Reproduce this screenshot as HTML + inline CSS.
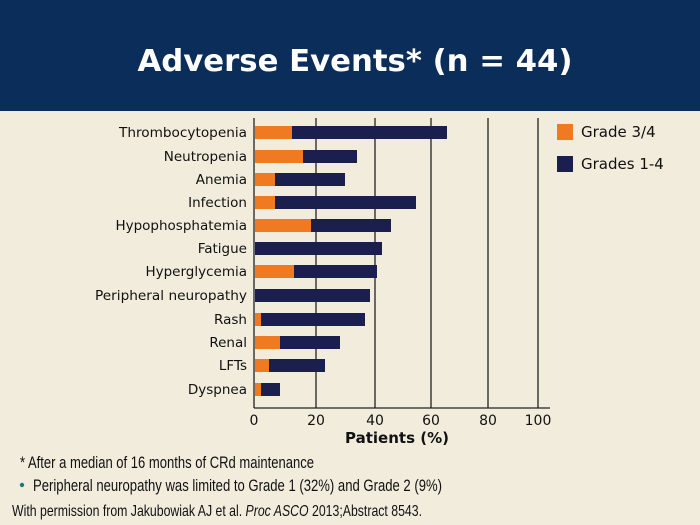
<!DOCTYPE html>
<html><head><style>body{margin:0}svg{display:block}</style></head><body>
<svg width="700" height="525" xmlns="http://www.w3.org/2000/svg" font-family="DejaVu Sans, Liberation Sans, sans-serif">
<rect width="700" height="525" fill="#f1ecdc"/>
<rect width="700" height="111" fill="#0b2d5a"/>
<text x="355" y="71" fill="#fff" font-size="30" font-weight="bold" text-anchor="middle" textLength="435" lengthAdjust="spacingAndGlyphs">Adverse Events* (n = 44)</text>
<g stroke="#222" stroke-width="1.3">
<line x1="316" y1="118" x2="316" y2="408"/><line x1="375" y1="118" x2="375" y2="408"/>
<line x1="431" y1="118" x2="431" y2="408"/><line x1="488" y1="118" x2="488" y2="408"/>
<line x1="538" y1="118" x2="538" y2="408"/>
</g>
<g>
<rect x="255" y="126" width="192" height="13" fill="#1b1f4d"/><rect x="255" y="126" width="37" height="13" fill="#f07a22"/>
<rect x="255" y="150" width="102" height="13" fill="#1b1f4d"/><rect x="255" y="150" width="48" height="13" fill="#f07a22"/>
<rect x="255" y="173" width="90" height="13" fill="#1b1f4d"/><rect x="255" y="173" width="20" height="13" fill="#f07a22"/>
<rect x="255" y="196" width="161" height="13" fill="#1b1f4d"/><rect x="255" y="196" width="20" height="13" fill="#f07a22"/>
<rect x="255" y="219" width="136" height="13" fill="#1b1f4d"/><rect x="255" y="219" width="56" height="13" fill="#f07a22"/>
<rect x="255" y="242" width="127" height="13" fill="#1b1f4d"/>
<rect x="255" y="265" width="122" height="13" fill="#1b1f4d"/><rect x="255" y="265" width="39" height="13" fill="#f07a22"/>
<rect x="255" y="289" width="115" height="13" fill="#1b1f4d"/>
<rect x="255" y="313" width="110" height="13" fill="#1b1f4d"/><rect x="255" y="313" width="6" height="13" fill="#f07a22"/>
<rect x="255" y="336" width="85" height="13" fill="#1b1f4d"/><rect x="255" y="336" width="25" height="13" fill="#f07a22"/>
<rect x="255" y="359" width="70" height="13" fill="#1b1f4d"/><rect x="255" y="359" width="14" height="13" fill="#f07a22"/>
<rect x="255" y="383" width="25" height="13" fill="#1b1f4d"/><rect x="255" y="383" width="6" height="13" fill="#f07a22"/>
</g>
<g stroke="#222" stroke-width="1.3"><line x1="254" y1="118" x2="254" y2="408"/><line x1="254" y1="408" x2="550" y2="408"/></g>
<g font-size="13.5" fill="#111" text-anchor="end">
<text x="247" y="137" textLength="128" lengthAdjust="spacingAndGlyphs">Thrombocytopenia</text><text x="247" y="161">Neutropenia</text>
<text x="247" y="184">Anemia</text><text x="247" y="207">Infection</text>
<text x="247" y="230">Hypophosphatemia</text><text x="247" y="253">Fatigue</text>
<text x="247" y="276">Hyperglycemia</text><text x="247" y="300" textLength="152" lengthAdjust="spacingAndGlyphs">Peripheral neuropathy</text>
<text x="247" y="324">Rash</text><text x="247" y="347">Renal</text>
<text x="247" y="370">LFTs</text><text x="247" y="394">Dyspnea</text>
</g>
<g font-size="14" fill="#111" text-anchor="middle">
<text x="254" y="425">0</text><text x="316" y="425">20</text><text x="375" y="425">40</text>
<text x="431" y="425">60</text><text x="488" y="425">80</text><text x="538" y="425">100</text>
</g>
<text x="397" y="443" font-size="15" font-weight="bold" text-anchor="middle" fill="#111">Patients (%)</text>
<rect x="557" y="124" width="16" height="16" fill="#f07a22"/>
<rect x="557" y="156" width="16" height="16" fill="#1b1f4d"/>
<text x="581" y="137" font-size="15" fill="#111">Grade 3/4</text>
<text x="581" y="169" font-size="15" fill="#111">Grades 1-4</text>
<g font-family="Liberation Sans, sans-serif">
<text x="20" y="468" font-size="17" fill="#111" textLength="294" lengthAdjust="spacingAndGlyphs">* After a median of 16 months of CRd maintenance</text>
<circle cx="22" cy="485" r="2.2" fill="#1a7a8a"/>
<text x="33" y="491" font-size="17" fill="#111" textLength="409" lengthAdjust="spacingAndGlyphs">Peripheral neuropathy was limited to Grade 1 (32%) and Grade 2 (9%)</text>
<text x="12" y="516" font-size="16" fill="#111" textLength="410" lengthAdjust="spacingAndGlyphs">With permission from Jakubowiak AJ et al. <tspan font-style="italic">Proc ASCO</tspan> 2013;Abstract 8543.</text>
</g>
</svg>
</body></html>
